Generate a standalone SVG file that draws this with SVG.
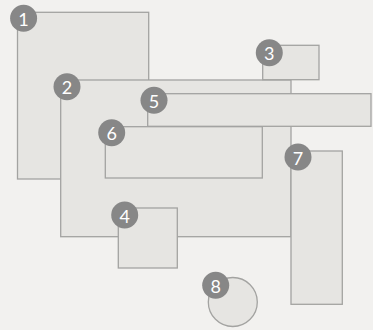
<svg xmlns="http://www.w3.org/2000/svg" width="373" height="330" viewBox="0 0 373 330">
<style>
.s{fill:#e6e5e2;stroke:#a3a3a1;stroke-width:1.3}
.b{fill:#878787}
.t{fill:#ffffff;font-family:Lato,"Open Sans",sans-serif;font-size:18px;text-anchor:middle;dominant-baseline:central}
</style>
<rect width="373" height="330" fill="#f2f1ef"/>
<g id="node1"><rect class="s" x="17.5" y="12.3" width="131.2" height="166.7"/></g>
<g id="node2"><rect class="s" x="60.7" y="80" width="230.3" height="156.7"/></g>
<g id="node3"><rect class="s" x="262.7" y="45.3" width="56.3" height="34.4"/></g>
<g id="node5"><rect class="s" x="147.7" y="93.7" width="223.3" height="32.6"/></g>
<g id="node6"><rect class="s" x="105.3" y="126.7" width="157" height="51.3"/></g>
<g id="node4"><rect class="s" x="118.3" y="208" width="59" height="60"/></g>
<g id="node7"><rect class="s" x="291" y="151" width="51.3" height="153.3"/></g>
<g id="node8"><circle class="s" cx="232.8" cy="302" r="24.5"/></g>
<g id="badges">
<g id="badge1"><circle class="b" cx="23.6" cy="18.3" r="13.5"/><text class="t" x="23.6" y="18.8">1</text></g>
<g id="badge2"><circle class="b" cx="67" cy="86.7" r="13.5"/><text class="t" x="67" y="87.2">2</text></g>
<g id="badge3"><circle class="b" cx="269.3" cy="52.7" r="13.5"/><text class="t" x="269.3" y="53.2">3</text></g>
<g id="badge4"><circle class="b" cx="124.7" cy="215" r="13.5"/><text class="t" x="124.7" y="215.5">4</text></g>
<g id="badge5"><circle class="b" cx="154" cy="100.3" r="13.5"/><text class="t" x="154" y="100.8">5</text></g>
<g id="badge6"><circle class="b" cx="111.7" cy="132.7" r="13.5"/><text class="t" x="111.7" y="133.2">6</text></g>
<g id="badge7"><circle class="b" cx="298" cy="157" r="13.5"/><text class="t" x="298" y="157.5">7</text></g>
<g id="badge8"><circle class="b" cx="215.7" cy="285.3" r="13.5"/><text class="t" x="215.7" y="285.8">8</text></g>
</g>
<g id="connectors"/>
</svg>
